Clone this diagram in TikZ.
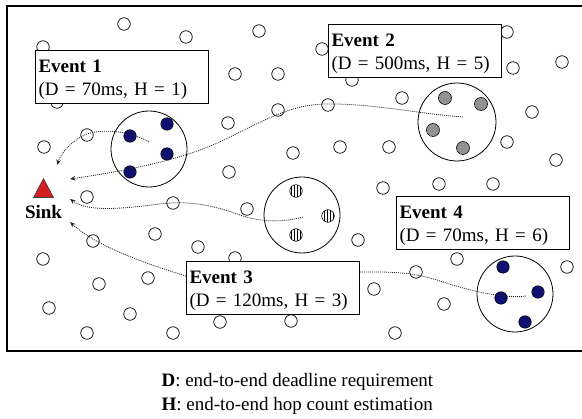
\documentclass[tikz,border=0pt]{standalone}
\usepackage{fontspec}
\setmainfont{Liberation Serif}
\usetikzlibrary{arrows.meta,patterns}
\definecolor{navydot}{RGB}{16,16,112}
\definecolor{sinkred}{RGB}{210,30,30}

\begin{document}
\begin{tikzpicture}[x=1pt,y=-1pt,
  font=\fontsize{19}{23}\selectfont,
  sensor/.style={circle,draw,line width=0.7pt,minimum size=12.5pt,inner sep=0pt,fill=white},
  region/.style={circle,draw,line width=0.8pt,minimum size=76pt,inner sep=0pt},
  activedot/.style={circle,draw=black,line width=0.5pt,fill=navydot,minimum size=12.5pt,inner sep=0pt},
  graydot/.style={circle,draw=black,line width=0.6pt,fill=black!45,minimum size=13pt,inner sep=0pt,
    postaction={pattern=crosshatch dots,pattern color=white!70!black}},
  stripedot/.style={circle,draw=black,line width=0.6pt,pattern=vertical lines,minimum size=12.5pt,inner sep=0pt},
  eventbox/.style={draw,fill=white,line width=1pt,text width=167pt,inner xsep=3pt,inner ysep=2pt,
    minimum height=53pt,align=left,anchor=north west},
  flow/.style={line width=0.8pt,black!85,dash pattern=on 1pt off 1pt},
  tip/.style={-{Stealth[length=5.5pt,width=4.5pt]}},
]
\useasboundingbox (0,0) rectangle (582,419);

% field border (open on the right)
\draw[line width=1.2pt] (590,6) -- (7,6) -- (7,351) -- (590,351);

% idle sensor nodes
\foreach \x/\y [count=\i] in {124/24,186/37,259/31,43/47,235/74,278/74,57/102,228/123,278/110,
  87/135,44/147,293/153,229/172,507/32,322/49,352/80,513/68,562/62,402/98,328/105,532/112,
  507/142,556/160,340/147,389/147,87/197,173/203,247/209,155/234,93/241,198/247,43/259,
  235/258,148/278,99/284,49/308,130/314,220/322,291/321,87/333,173/333,383/188,439/184,
  493/184,358/240,457/259,416/272,374/289,444/304,395/333,567/267}
  \node[sensor] (s\i) at (\x,\y) {};

% event regions
\node[region] (r1) at (149,149) {};
\node[region,minimum size=78pt] (r2) at (457,122) {};
\node[region] (r3) at (302,215) {};
\node[region] (r4) at (515,294) {};

% reporting nodes, event 1
\node[activedot] (a1) at (167,124) {};
\node[activedot] (a2) at (130,136) {};
\node[activedot] (a3) at (167,154) {};
\node[activedot] (a4) at (130,172) {};
% event 2
\node[graydot] (b1) at (445,98) {};
\node[graydot] (b2) at (481,104) {};
\node[graydot] (b3) at (433,130) {};
\node[graydot] (b4) at (463,148) {};
% event 3
\node[stripedot] (c1) at (296,191) {};
\node[stripedot] (c2) at (328,216) {};
\node[stripedot] (c3) at (296,235) {};
% event 4
\node[activedot] (d1) at (503,267) {};
\node[activedot] (d2) at (538,292) {};
\node[activedot] (d3) at (501,298) {};
\node[activedot] (d4) at (525,322) {};

% sink
\filldraw[fill=sinkred,draw=black!75,line width=0.6pt] (33.5,197.5) -- (43.5,178.5) -- (53.5,197.5) -- cycle;
\node[font=\fontsize{19}{23}\selectfont\bfseries] (sinklabel) at (43.5,212) {Sink};

% event descriptions
\newcommand{\evtext}[2]{\rule{0pt}{18pt}\textbf{Event #1}\\(#2)}
\node[eventbox] (ev1) at (35,50) {\evtext{1}{D = 70ms, H = 1}};
\node[eventbox] (ev2) at (328,24) {\evtext{2}{D = 500ms, H = 5}};
\node[eventbox] (ev3) at (186,261) {\evtext{3}{D = 120ms, H = 3}};
\node[eventbox] (ev4) at (396,196) {\evtext{4}{D = 70ms, H = 6}};

% route sources and arrival points at the sink
\coordinate (src1) at (149,142);
\coordinate (src2) at (463,117);
\coordinate (src3) at (303,217);
\coordinate (src4) at (526,296);
\coordinate (in1) at (57,165);
\coordinate (in2) at (70,179);
\coordinate (in3) at (70,199);
\coordinate (in4) at (70,222);

% data routes
\draw[flow,tip] (src1) .. controls (132,132) and (105,128) .. (87,134)
  .. controls (72,140) and (61,153) .. (in1);
\draw[flow,tip] (src2) .. controls (420,114) and (370,103) .. (325,104)
  .. controls (290,105) and (265,120) .. (230,137)
  .. controls (200,152) and (160,166) .. (in2);
\draw[flow,tip] (src3) .. controls (285,222) and (262,223) .. (240,215)
  .. controls (215,206) and (190,200) .. (160,204)
  .. controls (120,209) and (88,212) .. (in3);
\draw[flow,tip] ([yshift=12pt]ev3.west) .. controls (140,262) and (95,245) .. (in4);
\draw[flow] (src4) .. controls (505,299) and (470,291) .. (440,281)
  .. controls (410,271) and (385,272) .. ([yshift=16pt]ev3.east);

% legend
\node[anchor=base west] (legD) at (158,387) {\textbf{D}: end-to-end deadline requirement};
\node[anchor=base west] (legH) at (158,411) {\textbf{H}: end-to-end hop count estimation};
\end{tikzpicture}
\end{document}
